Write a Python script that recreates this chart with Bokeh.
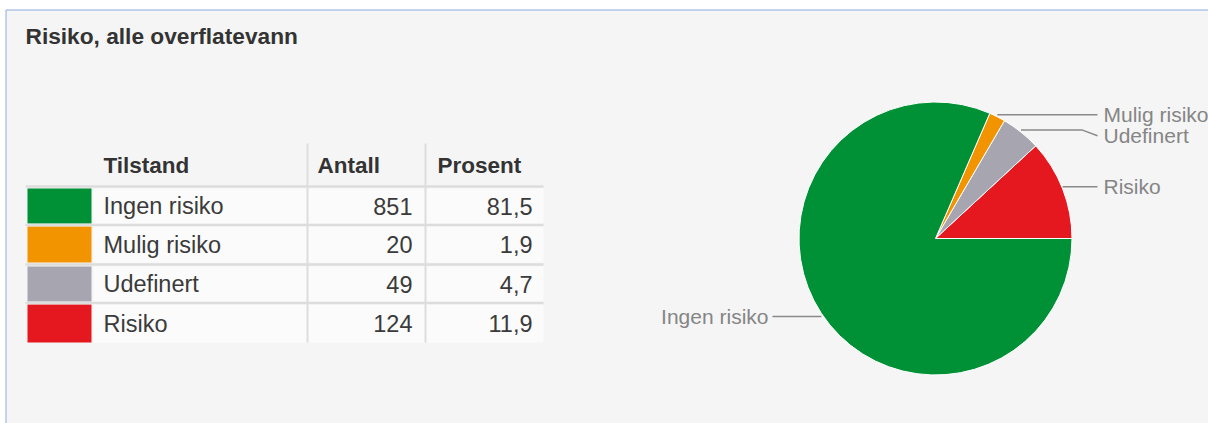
import math
from bokeh.plotting import figure
from bokeh.models import Range1d
from bokeh.core.properties import value
from bokeh.embed import file_html
from bokeh.resources import INLINE

# ---- data ----
title = "Risiko, alle overflatevann"
header = ["Tilstand", "Antall", "Prosent"]
categories = ["Ingen risiko", "Mulig risiko", "Udefinert", "Risiko"]
counts = [851, 20, 49, 124]
percents = ["81,5", "1,9", "4,7", "11,9"]
colors = ["#009036", "#f29400", "#a7a6b0", "#e5181f"]

FONT = value("Liberation Sans")
W, H = 1208, 423

def Y(s):  # screen y -> data y
    return 423 - s

p = figure(width=W, height=H, output_backend="svg", toolbar_location=None,
           x_range=Range1d(0, W), y_range=Range1d(423 - H, 423), min_border=0)
p.axis.visible = False
p.grid.visible = False
p.outline_line_color = None
p.background_fill_color = "white"
p.border_fill_color = "white"

# panel
p.quad(left=[5.5], right=[1230], top=[Y(9.5)], bottom=[-20],
       fill_color="#f5f5f5", line_color="#8eaadb", line_width=1)

# title
p.text(x=[25], y=[Y(35)], text=[title], text_font=FONT, text_font_size="22.7px",
       text_font_style="bold", text_color="#333333", text_baseline="middle")

# ---- table ----
row_top = [188, 226, 266, 304]
row_bot = [223, 262, 301, 342]
row_mid = [(a + b) / 2 for a, b in zip(row_top, row_bot)]

# row backgrounds
p.quad(left=[93] * 4, right=[543] * 4, top=[Y(t) for t in row_top],
       bottom=[Y(b) for b in row_bot], fill_color="#fbfbfb", line_color=None)
# swatches
p.quad(left=[27] * 4, right=[91] * 4, top=[Y(t) for t in row_top],
       bottom=[Y(b) for b in row_bot], fill_color=colors, line_color=None)
# horizontal separators
hl = [186, 224.5, 264, 302.5]
p.segment(x0=[25] * 4, x1=[543] * 4, y0=[Y(v) for v in hl], y1=[Y(v) for v in hl],
          line_color="#dddddd", line_width=2.5)
# vertical separators
p.segment(x0=[307, 425], x1=[307, 425], y0=[Y(143)] * 2, y1=[Y(342)] * 2,
          line_color="#dddddd", line_width=2)

# header
p.text(x=[103, 317, 437], y=[Y(165)] * 3, text=header, text_font=FONT,
       text_font_size="22.5px", text_font_style="bold", text_color="#333333",
       text_baseline="middle")
# body
p.text(x=[103] * 4, y=[Y(m) for m in row_mid], text=categories, text_font=FONT,
       text_font_size="23.5px", text_color="#3a3a3a", text_baseline="middle")
p.text(x=[412] * 4, y=[Y(m) for m in row_mid], text=[str(c) for c in counts],
       text_font=FONT, text_font_size="23.5px", text_color="#3a3a3a",
       text_baseline="middle", text_align="right")
p.text(x=[532] * 4, y=[Y(m) for m in row_mid], text=percents,
       text_font=FONT, text_font_size="23.5px", text_color="#3a3a3a",
       text_baseline="middle", text_align="right")

# ---- pie ----
cx, cy, r = 935, Y(238), 136.5
order = [3, 2, 1, 0]  # anticlockwise from 3 o'clock
total = sum(counts)
starts, ends, cols, mids = [], [], [], {}
a = 0.0
for i in order:
    span = counts[i] / total * 2 * math.pi
    starts.append(a)
    ends.append(a + span)
    cols.append(colors[i])
    mids[i] = a + span / 2
    a += span
p.wedge(x=[cx] * 4, y=[cy] * 4, radius=r, start_angle=starts, end_angle=ends,
        fill_color=cols, line_color="white", line_width=1)

# labels with leader lines
right_items = sorted([i for i in range(4) if math.cos(mids[i]) > 0],
                     key=lambda i: -math.sin(mids[i]))
left_items = [i for i in range(4) if math.cos(mids[i]) <= 0]
prev = None
for i in right_items:
    ex = cx + r * math.cos(mids[i])
    ey = cy + r * math.sin(mids[i]) + 2
    ly = ey if prev is None else min(ey, prev - 21)
    prev = ly
    xs = [ex, 1082, 1097] if abs(ly - ey) > 1 else [ex, 1097]
    ys = [ey, ey, ly] if abs(ly - ey) > 1 else [ey, ly]
    p.line(xs, ys, line_color="#8a8a8a", line_width=1.5)
    p.text(x=[1103], y=[ly], text=[categories[i]], text_font=FONT,
           text_font_size="21px", text_color="#858585", text_baseline="middle")
for i in left_items:
    ex = cx + r * math.cos(mids[i])
    ey = cy + r * math.sin(mids[i]) - 3
    p.line([ex, 772], [ey, ey], line_color="#8a8a8a", line_width=1.5)
    p.text(x=[768], y=[ey], text=[categories[i]], text_font=FONT,
           text_font_size="21px", text_color="#858585", text_baseline="middle",
           text_align="right")

open("out.html", "w").write(file_html(p, INLINE))
